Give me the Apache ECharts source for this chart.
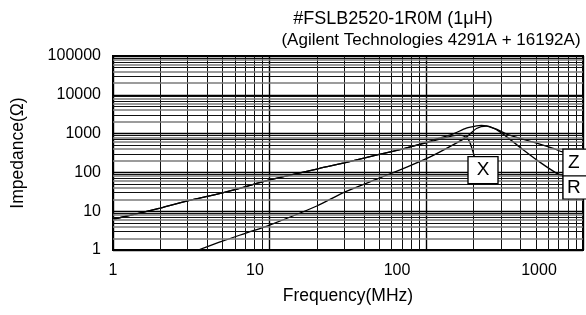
<!DOCTYPE html>
<html>
<head>
<meta charset="utf-8">
<script src="https://cdn.jsdelivr.net/npm/echarts@6/dist/echarts.min.js"></script>
<style>
html,body{margin:0;padding:0;background:#fff;}
#chart{width:586px;height:315px;}
</style>
</head>
<body>
<div id="chart"></div>
<script>
// ---- data ----
const titleText = '#FSLB2520-1R0M (1\u03bcH)';
const subTitleText = '(Agilent Technologies 4291A + 16192A)';
const xName = 'Frequency(MHz)';
const yName = 'Impedance(\u03a9)';
const xTickLabels = ['1', '10', '100', '1000'];
const yTickLabels = ['1', '10', '100', '1000', '10000', '100000'];

const zFreq = [1, 2, 3, 4, 6, 8, 10, 20, 30, 50, 70, 100, 110, 147, 180, 209, 225, 242, 280, 340, 476, 638, 739, 1000];
const zVals = [6.2, 12, 18.5, 24, 36, 50, 64, 122, 175, 290, 400, 590, 677, 966, 1377, 1580, 1620, 1580, 1299, 910, 612, 421, 338, 250];

const xFreq = [1, 2, 3, 4, 6, 8, 10, 20, 30, 50, 70, 100, 127, 147, 163, 180, 189, 197, 203, 206];
const xVals = [6.2, 12, 18.5, 24, 36, 50, 64, 122, 175, 290, 400, 580, 749, 874, 911, 795, 612, 374, 247, 154];

const rFreq = [3.5, 5, 7, 10, 20, 30, 50, 75, 105, 147, 181, 209, 242, 295, 393, 527, 676, 739, 1000];
const rVals = [1.0, 1.7, 2.7, 4.4, 13.6, 31, 71, 137, 247, 503, 824, 1353, 1550, 1109, 455, 187, 96, 82, 40];

// label boxes
const boxLabels = ['X', 'Z', 'R'];
const boxFreq = [230, 928, 928];
const boxVals = [115, 178, 40.8];

// log grid helpers
const gridMultipliers = [2, 3, 4, 5, 6, 7, 8, 9];
const xDecades = [1, 10, 100];
const yDecades = [1, 10, 100, 1000, 10000];

// ---- build ----
const zip = (a, b) => a.map((v, i) => [v, b[i]]);
const minorX = [];
xDecades.forEach(d => gridMultipliers.forEach(m => minorX.push({ xAxis: d * m, lineStyle: { color: '#111', width: 1, type: 'solid' } })));
const minorY = [];
yDecades.forEach(d => gridMultipliers.forEach(m => minorY.push({ yAxis: d * m, lineStyle: { color: (m % 2 === 0) ? '#7a7a7a' : '#111', width: (m % 2 === 0) ? 1.6 : 1, type: 'solid' } })));

const curveStyle = { color: '#000', width: 1.3 };
const FONT = 'Liberation Sans';
const chart = echarts.init(document.getElementById('chart'), null, { renderer: 'canvas' });
chart.setOption({
  animation: false,
  backgroundColor: '#fff',
  textStyle: { fontFamily: FONT },
  title: [
    { text: titleText, left: 388, top: 5, textAlign: 'center',
      textStyle: { fontSize: 18, fontWeight: 'normal', color: '#000', fontFamily: FONT } },
    { text: subTitleText, left: 426, top: 27, textAlign: 'center',
      textStyle: { fontSize: 17, fontWeight: 'normal', color: '#000', fontFamily: FONT } }
  ],
  grid: { left: 113, right: 3, top: 56, bottom: 65, show: true, borderColor: '#000', borderWidth: 2,
          backgroundColor: 'transparent', containLabel: false, outerBoundsMode: 'none' },
  xAxis: [
    { type: 'log', logBase: 10, min: 1, max: 1000, position: 'bottom',
      axisLine: { show: false }, axisTick: { show: false }, axisLabel: { show: false },
      splitLine: { show: true, lineStyle: { color: '#000', width: 1.4 } } },
    { type: 'value', min: 0, max: 3.31, interval: 1, position: 'bottom',
      axisLine: { show: false }, axisTick: { show: false }, splitLine: { show: false },
      axisLabel: { color: '#000', fontSize: 16, margin: 13, showMaxLabel: false,
                   formatter: v => (Math.abs(v - Math.round(v)) < 1e-6 ? (xTickLabels[Math.round(v)] || '') : '') },
      name: xName, nameLocation: 'middle', nameGap: 37,
      nameTextStyle: { color: '#000', fontSize: 17.5 } }
  ],
  yAxis: {
    type: 'log', logBase: 10, min: 1, max: 100000,
    axisLine: { show: false }, axisTick: { show: false },
    axisLabel: { color: '#000', fontSize: 16, margin: 12, formatter: v => yTickLabels[Math.round(Math.log10(v))] || '' },
    splitLine: { show: true, lineStyle: { color: '#000', width: 1.4 } },
    name: yName, nameLocation: 'middle', nameGap: 86,
    nameTextStyle: { color: '#000', fontSize: 17.5 }
  },
  series: [
    { name: 'grid', type: 'line', xAxisIndex: 0, data: [], z: 1, silent: true,
      markLine: { silent: true, symbol: ['none', 'none'], label: { show: false }, animation: false,
        data: minorX.concat(minorY) } },
    { name: 'Z', type: 'line', xAxisIndex: 0, data: zip(zFreq, zVals), showSymbol: false, smooth: 0.25, lineStyle: curveStyle, z: 3 },
    { name: 'X', type: 'line', xAxisIndex: 0, data: zip(xFreq, xVals), showSymbol: false, smooth: 0.25, lineStyle: curveStyle, z: 3 },
    { name: 'R', type: 'line', xAxisIndex: 0, data: zip(rFreq, rVals), showSymbol: false, smooth: 0.25, lineStyle: curveStyle, z: 3 },
    { name: 'boxes', type: 'line', xAxisIndex: 0, data: [], z: 10, silent: true,
      markPoint: {
        silent: true, animation: false,
        data: boxLabels.map((t, i) => ({
          coord: [boxFreq[i], boxVals[i]],
          symbol: 'rect',
          symbolSize: t === 'R' ? [30, 23] : [30, 27],
          itemStyle: { color: '#fff', borderColor: '#000', borderWidth: 1.3 },
          label: { show: true, position: 'inside', formatter: t, color: '#000', fontSize: 19,
                   offset: t === 'X' ? [0, 0] : [-4, 0] }
        }))
      } }
  ]
});
</script>
</body>
</html>
